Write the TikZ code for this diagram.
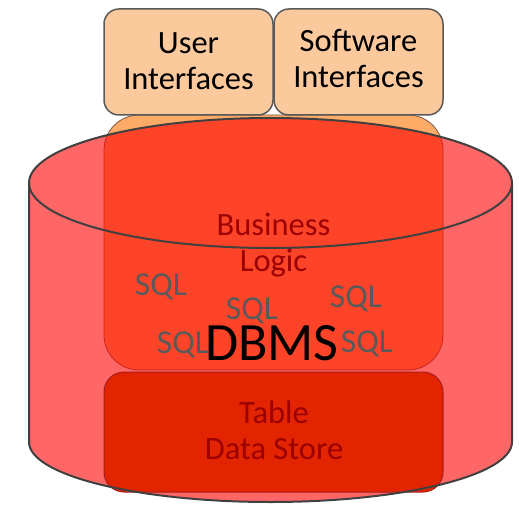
\documentclass[tikz,border=0pt]{standalone}
\usepackage{fontspec}
\setmainfont{Carlito}
\definecolor{peach}{HTML}{FCC99C}
\definecolor{orangebox}{HTML}{FDAB66}
\definecolor{orangeline}{HTML}{7A5A48}
\definecolor{tablered}{HTML}{E32400}
\definecolor{tableline}{HTML}{A81C1C}
\definecolor{outline}{HTML}{595959}
\definecolor{cylline}{HTML}{404040}
\definecolor{textred}{HTML}{9C0000}
\definecolor{sqlgray}{HTML}{5A5A5A}
\begin{document}
\begin{tikzpicture}[x=1pt,y=1pt,
  ifbox/.style={draw=outline, line width=1.5pt, fill=peach, rounded corners=15pt,
    minimum width=169pt, minimum height=106pt, inner sep=0pt},
  lbl/.style={inner sep=0pt, align=center, font=\fontsize{32.5}{36}\selectfont},
  sqllbl/.style={inner sep=0pt, anchor=base, text=sqlgray, font=\fontsize{33.5}{36}\selectfont}]
\useasboundingbox (0,0) rectangle (519,504);
% business logic box (behind the cylinder)
\node[draw=orangeline, line width=0.8pt, fill=orangebox, rounded corners=35pt,
  minimum width=339pt, minimum height=255pt, inner sep=0pt] (bl) at (273.5,261.5) {};
% cylinder corner points
\coordinate (tl) at (29,321);
\coordinate (tr) at (512,321);
\coordinate (bl0) at (29,62);
\coordinate (br0) at (512,62);
\coordinate (bm) at (270.5,2);
% cylinder body
\path[fill=red, fill opacity=0.6] (tl) -- (bl0)
  .. controls (29,28.9) and (137.1,2) .. (bm)
  .. controls (403.9,2) and (512,28.9) .. (br0)
  -- (tr)
  arc[start angle=0, end angle=180, x radius=241.5, y radius=65] -- cycle;
% table data store box
\node[draw=tableline, line width=1pt, fill=tablered, rounded corners=20pt,
  minimum width=339pt, minimum height=120pt, inner sep=0pt] (tds) at (273.5,72) {};
% cylinder outline
\draw[cylline, line width=2pt] (tl) -- (bl0)
  .. controls (29,28.9) and (137.1,2) .. (bm)
  .. controls (403.9,2) and (512,28.9) .. (br0) -- (tr);
\draw[cylline, line width=2pt] (270.5,321) ellipse [x radius=241.5, y radius=65];
% texts in the cylinder
\node[lbl, anchor=north, text=textred] (bltext) at (273.5,291.5) {Business\\Logic};
\node[lbl, anchor=north, text=textred] (tdstext) at (274,103.4) {Table\\Data Store};
% interface boxes
\node[ifbox] (ui) at (188.5,442) {};
\node[ifbox] (si) at (358.5,442) {};
\node[lbl, anchor=north] (uitext) at (188.5,471.5) {User\\Interfaces};
\node[lbl, anchor=north] (sitext) at (358.5,474.6) {Software\\Interfaces};
% SQL labels
\node[sqllbl] (sql1) at (161,209) {SQL};
\node[sqllbl] (sql2) at (252,185) {SQL};
\node[sqllbl] (sql3) at (356,197) {SQL};
\node[sqllbl] (sql4) at (183,151) {SQL};
\node[sqllbl] (sql5) at (367,152) {SQL};
% DBMS
\node[inner sep=0pt, anchor=base, font=\fontsize{54}{60}\selectfont] (dbms) at (272,144) {DBMS};
\end{tikzpicture}
\end{document}
